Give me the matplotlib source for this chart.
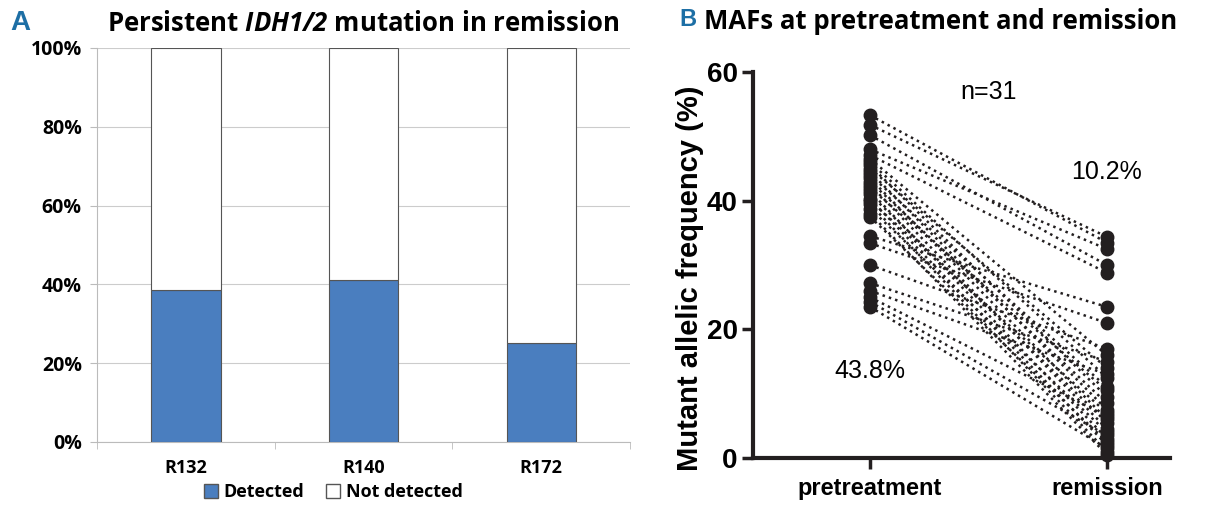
import matplotlib.pyplot as plt
from matplotlib.patches import Patch

# Panel A data
codons = ['R132', 'R140', 'R172']
detected = [38.5, 41.2, 25.0]
not_detected = [100 - d for d in detected]

# Panel B data (paired MAFs, %)
maf_pre = [53.3, 51.8, 50.2, 48.0, 47.1, 46.5, 46.0, 45.5, 45.0, 44.5, 44.0,
           43.5, 43.0, 42.5, 42.0, 41.5, 41.0, 40.3, 40.0, 39.5, 38.8, 38.0,
           37.5, 34.5, 33.4, 30.0, 27.2, 26.0, 25.0, 24.3, 23.5]
maf_rem = [33.5, 34.4, 30.0, 32.5, 28.8, 16.0, 12.5, 9.5, 14.0, 7.5, 11.0,
           6.0, 8.5, 4.5, 10.5, 3.0, 5.5, 2.0, 7.0, 1.0, 4.0, 0.5,
           2.5, 23.5, 21.0, 17.0, 15.0, 13.0, 6.5, 3.5, 1.5]
timepoints = ['pretreatment', 'remission']

FA = 'Open Sans'
plt.rcParams['mathtext.fontset'] = 'custom'
plt.rcParams['mathtext.it'] = 'Open Sans:italic:bold'
plt.rcParams['mathtext.rm'] = 'Open Sans:italic:bold'

fig = plt.figure(figsize=(12.29, 5.05), dpi=100)

# ---- Panel A ----
ax1 = fig.add_axes([0.079, 0.1248, 0.4336, 0.7802])
x = range(len(codons))
ax1.bar(x, detected, width=0.39, color='#4A7EBF', edgecolor='#555555', linewidth=0.8, zorder=3)
ax1.bar(x, not_detected, bottom=detected, width=0.39, color='white', edgecolor='#555555',
        linewidth=0.8, zorder=3)
ax1.set_xlim(-0.5, 2.5)
ax1.set_ylim(0, 100)
ax1.set_yticks(range(0, 101, 20))
ax1.set_yticklabels([f'{v}%' for v in range(0, 101, 20)], fontfamily=FA,
                    fontweight='bold', fontsize=14)
ax1.set_xticks(list(x))
ax1.set_xticklabels(codons, fontfamily=FA, fontweight='bold', fontsize=13)
ax1.set_xticks([-0.5, 0.5, 1.5, 2.5], minor=True)
ax1.tick_params(axis='x', which='major', length=0, pad=12)
ax1.tick_params(axis='x', which='minor', length=5, color='#BBBBBB')
ax1.tick_params(axis='y', length=5, color='#BBBBBB', pad=6)
ax1.grid(axis='y', color='#CCCCCC', linewidth=0.8, zorder=0)
for s in ['top', 'right']:
    ax1.spines[s].set_visible(False)
ax1.spines['left'].set_color('#BBBBBB')
ax1.spines['bottom'].set_color('#BBBBBB')
ax1.set_title(r'Persistent $IDH1/2$ mutation in remission', fontfamily=FA,
              fontweight='bold', fontsize=18.5, pad=12)

handles = [Patch(facecolor='#4A7EBF', edgecolor='#555555', label='Detected'),
           Patch(facecolor='white', edgecolor='#555555', label='Not detected')]
fig.legend(handles=handles, loc='lower center', bbox_to_anchor=(0.271, -0.024), ncol=2,
           frameon=False, prop={'family': FA, 'weight': 'bold', 'size': 13},
           handlelength=0.8, handleheight=0.8, handletextpad=0.3, columnspacing=1.2)

fig.text(0.008, 0.955, 'A', color='#1D6FA5', fontsize=20, fontweight='bold',
         fontfamily=['Liberation Sans Narrow', 'Liberation Sans'], va='center')

# ---- Panel B ----
ax2 = fig.add_axes([0.6127, 0.0931, 0.3393, 0.7639])
for p, r in zip(maf_pre, maf_rem):
    ax2.plot([0, 1], [p, r], linestyle=':', color='#231F20', linewidth=1.8, zorder=2)
ax2.plot([0] * len(maf_pre), maf_pre, 'o', color='#231F20', markersize=9, clip_on=False, zorder=3)
ax2.plot([1] * len(maf_rem), maf_rem, 'o', color='#231F20', markersize=9, clip_on=False, zorder=3)
ax2.set_xlim(-0.494, 1.266)
ax2.set_ylim(0, 60)
ax2.set_yticks([0, 20, 40, 60])
ax2.set_yticklabels(['0', '20', '40', '60'], fontsize=20, fontweight='bold',
                    fontfamily=['Liberation Sans Narrow', 'Liberation Sans'])
ax2.set_xticks([0, 1])
ax2.set_xticklabels(timepoints, fontsize=17, fontweight='bold', fontfamily='Liberation Sans')
ax2.tick_params(axis='both', width=2.5, length=8, color='#231F20')
ax2.tick_params(axis='y', pad=3)
ax2.tick_params(axis='x', pad=6)
for s in ['top', 'right']:
    ax2.spines[s].set_visible(False)
for s in ['left', 'bottom']:
    ax2.spines[s].set_linewidth(3)
    ax2.spines[s].set_color('#231F20')
ax2.set_ylabel('Mutant allelic frequency (%)', fontsize=21, fontweight='bold',
               fontfamily='Liberation Sans')
ax2.yaxis.set_label_coords(-0.118, 0.465)
ax2.text(0.5, 57, 'n=31', fontsize=18, ha='center', va='center', fontfamily='Liberation Sans')
ax2.text(1.0, 44.5, '10.2%', fontsize=18, ha='center', va='center', fontfamily='Liberation Sans')
ax2.text(0.0, 13.5, '43.8%', fontsize=18, ha='center', va='center', fontfamily='Liberation Sans')

fig.text(0.553, 0.962, 'B', color='#1D6FA5', fontsize=17, fontweight='bold',
         fontfamily=['Liberation Sans Narrow', 'Liberation Sans'], va='center')
fig.text(0.765, 0.958, 'MAFs at pretreatment and remission', fontsize=18.5, fontweight='bold',
         fontfamily=FA, ha='center', va='center')

fig.savefig('out.png', dpi=100)
